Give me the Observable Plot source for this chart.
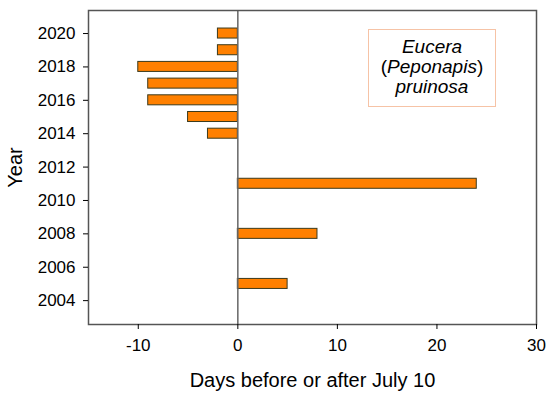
<!DOCTYPE html>
<html>
<head>
<meta charset="utf-8">
<script src="https://cdn.jsdelivr.net/npm/d3@7"></script>
<script src="https://cdn.jsdelivr.net/npm/@observablehq/plot@0.6"></script>
<style>
  html, body { margin: 0; padding: 0; background: #fff; }
  #wrap { position: relative; width: 550px; height: 398px; }
  #note {
    position: absolute; left: 368px; top: 29px; width: 126px; height: 76px;
    border: 1px solid #f6c3a6; background: #fff; box-sizing: content-box;
    display: flex; flex-direction: column; justify-content: flex-start; align-items: center;
    font-family: Arial, "Liberation Sans", sans-serif; font-size: 19px; line-height: 20px; color: #000;
  }
  #note .inner { margin-top: 7px; text-align: center; }
  #note i { font-style: italic; }
</style>
</head>
<body>
<div id="wrap"></div>
<script>
const years = [2020, 2019, 2018, 2017, 2016, 2015, 2014, 2011, 2008, 2005];
const days  = [-2, -2, -10, -9, -9, -5, -3, 24, 8, 5];
const yTicks = [2004, 2006, 2008, 2010, 2012, 2014, 2016, 2018, 2020];
const xTicks = [-10, 0, 10, 20, 30];
const xLabel = "Days before or after July 10";
const yLabel = "Year";

const data = years.map((y, i) => ({year: y, days: days[i]}));

const chart = Plot.plot({
  width: 550,
  height: 398,
  marginLeft: 88,
  marginRight: 14,
  marginTop: 10,
  marginBottom: 74,
  style: {fontFamily: 'Arial, "Liberation Sans", sans-serif', fontSize: "17px", color: "#000", background: "#fff"},
  x: {domain: [-15, 30]},
  y: {domain: [2002.57, 2021.38]},
  marks: [
    Plot.rectX(data, {
      x1: 0, x2: "days",
      y1: d => d.year - 0.3, y2: d => d.year + 0.3,
      fill: "#ff8000", stroke: "#3b3a1c", strokeWidth: 1
    }),
    Plot.ruleX([0], {stroke: "#666", strokeWidth: 1.5}),
    Plot.frame({stroke: "#555", strokeWidth: 1.5}),
    Plot.axisX({ticks: xTicks, tickSize: 5, tickPadding: 9, label: null, fontSize: 17, tickFormat: d => String(d)}),
    Plot.axisY({ticks: yTicks, tickSize: 5, tickPadding: 8, label: null, fontSize: 17, tickFormat: d => String(d)}),
    Plot.text([xLabel], {frameAnchor: "bottom", lineAnchor: "middle", textAnchor: "middle", dy: 56, fontSize: 20, text: d => d}),
    Plot.text([yLabel], {frameAnchor: "left", lineAnchor: "middle", textAnchor: "middle", dx: -73, rotate: -90, fontSize: 20, text: d => d})
  ]
});

const wrap = document.getElementById("wrap");
wrap.appendChild(chart);
const note = document.createElement("div");
note.id = "note";
note.innerHTML = '<div class="inner"><div><i>Eucera</i></div><div>(<i>Peponapis</i>)</div><div><i>pruinosa</i></div></div>';
wrap.appendChild(note);
</script>
</body>
</html>
